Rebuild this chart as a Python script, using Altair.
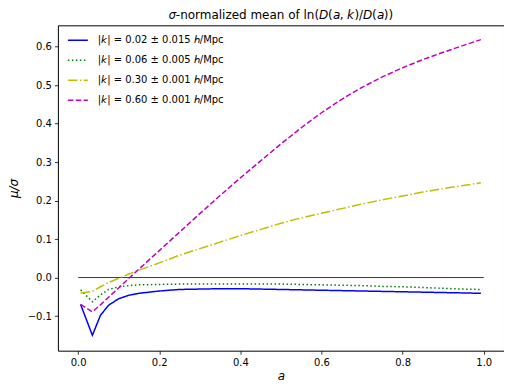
import altair as alt
import pandas as pd

a_vals = [0.006, 0.035, 0.055, 0.075, 0.1, 0.125, 0.15, 0.2, 0.25, 0.3, 0.35, 0.4,
          0.45, 0.5, 0.55, 0.6, 0.65, 0.7, 0.75, 0.8, 0.85, 0.9, 0.95, 0.993]

k002 = [-0.070, -0.150, -0.098, -0.072, -0.055, -0.046, -0.041, -0.035, -0.031, -0.030,
        -0.029, -0.029, -0.030, -0.031, -0.032, -0.033, -0.034, -0.035, -0.036, -0.037,
        -0.038, -0.039, -0.040, -0.041]
k006 = [-0.032, -0.063, -0.045, -0.031, -0.024, -0.021, -0.019, -0.018, -0.017, -0.017,
        -0.017, -0.017, -0.017, -0.017, -0.018, -0.019, -0.020, -0.021, -0.023, -0.024,
        -0.026, -0.028, -0.030, -0.031]
k030 = [-0.040, -0.036, -0.024, -0.013, -0.002, 0.009, 0.019, 0.038, 0.058, 0.075,
        0.092, 0.109, 0.125, 0.141, 0.155, 0.167, 0.179, 0.191, 0.202, 0.212,
        0.222, 0.231, 0.239, 0.246]
k060 = [-0.070, -0.089, -0.071, -0.051, -0.027, -0.002, 0.022, 0.070, 0.118, 0.166,
        0.213, 0.259, 0.303, 0.347, 0.389, 0.428, 0.463, 0.494, 0.521, 0.545,
        0.566, 0.585, 0.603, 0.618]

labels = [
    "|𝘬| = 0.02 ± 0.015 𝘩/Mpc",
    "|𝘬| = 0.06 ± 0.005 𝘩/Mpc",
    "|𝘬| = 0.30 ± 0.001 𝘩/Mpc",
    "|𝘬| = 0.60 ± 0.001 𝘩/Mpc",
]
colors = ["#0000ff", "#008000", "#bfbf00", "#bf00bf"]
dashes = [[1, 0], [1.5, 2.5], [9.6, 2.4, 1.5, 2.4], [5.5, 2.4]]

zero_a = [0.0, 1.0]
zero_v = [0.0, 0.0]

rows = []
for lab, series in zip(labels, [k002, k006, k030, k060]):
    for a, v in zip(a_vals, series):
        rows.append({"a": a, "v": v, "k": lab})
df = pd.DataFrame(rows)

zero_df = pd.DataFrame({"a": zero_a, "v": zero_v})

font = "DejaVu Sans"

x_enc = alt.X("a:Q", scale=alt.Scale(domain=[-0.05, 1.05], nice=False, zero=False),
              axis=alt.Axis(values=[0.0, 0.2, 0.4, 0.6, 0.8, 1.0], format=".1f",
                            title="a", titleFontStyle="italic", titleFontSize=12,
                            titleFontWeight="normal", titlePadding=3))
y_enc = alt.Y("v:Q", scale=alt.Scale(domain=[-0.19, 0.655], nice=False, zero=False),
              axis=alt.Axis(values=[-0.1, 0.0, 0.1, 0.2, 0.3, 0.4, 0.5, 0.6], format=".1f",
                            labelExpr="replace(datum.label, '-', '−')",
                            title="μ/σ", titleFontStyle="italic", titleFontSize=12,
                            titleFontWeight="normal", titlePadding=7))

zero = alt.Chart(zero_df).mark_line(color="#222222", strokeWidth=0.9).encode(
    x=x_enc, y=y_enc)

lines = alt.Chart(df).mark_line(strokeWidth=1.5).encode(
    x=x_enc,
    y=y_enc,
    detail="k:N",
    order="a:Q",
    color=alt.Color("k:N", scale=alt.Scale(domain=labels, range=colors),
                    sort=labels,
                    legend=alt.Legend(title=None, orient="none", legendX=9, legendY=4,
                                      symbolType="stroke", symbolSize=400,
                                      symbolStrokeWidth=1.5, labelFontSize=10,
                                      labelFont=font, labelOffset=9, rowPadding=4,
                                      padding=0, labelColor="black")),
    strokeDash=alt.StrokeDash("k:N", scale=alt.Scale(domain=labels, range=dashes),
                              sort=labels, legend=None),
)

chart = alt.layer(zero, lines).properties(
    width=447, height=326,
    autosize=alt.AutoSizeParams(type="none"),
    padding={"left": 50, "top": 17, "right": 0, "bottom": 33},
    title=alt.TitleParams("𝜎-normalized mean of ln(𝘋(𝘢, 𝘬)/𝘋(𝘢))", fontSize=12,
                          font=font, fontWeight="normal", offset=3, color="black"),
).configure_view(stroke="black", strokeWidth=1).configure_axis(
    grid=False, domain=False, tickColor="black", tickSize=3.5, labelFont=font,
    labelFontSize=10, labelColor="black", titleFont=font, titleColor="black",
    labelPadding=3, tickWidth=0.8,
)

chart.save("out.html", embed_options={"renderer": "svg", "actions": False})
